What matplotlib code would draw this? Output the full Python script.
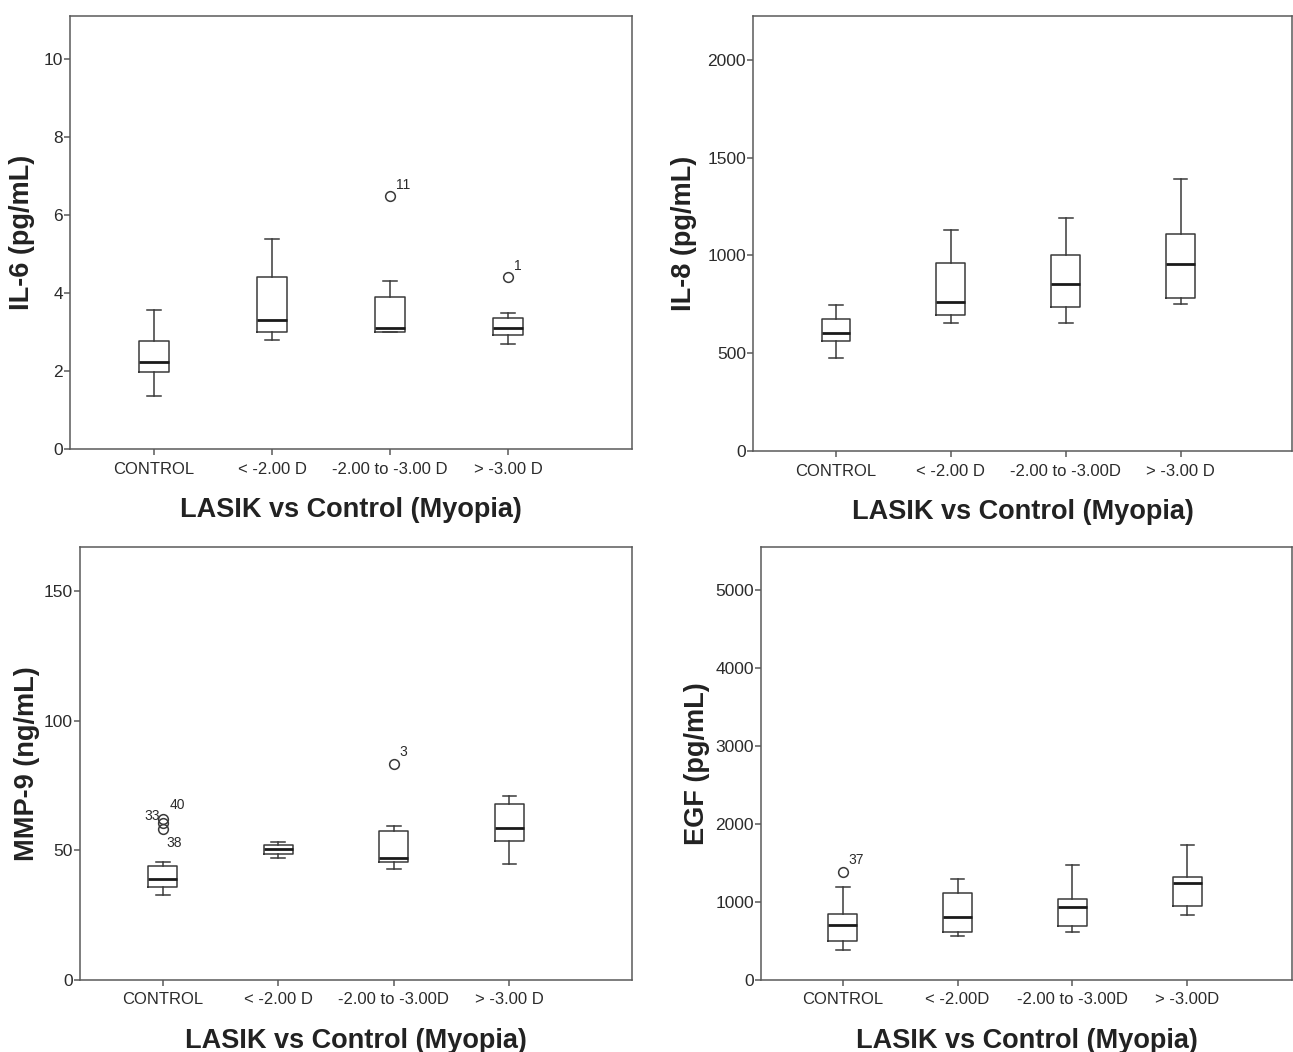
import numpy as np
import matplotlib.pyplot as plt

plt.rcParams['font.family'] = ['Liberation Sans', 'DejaVu Sans']

# =========================
# Data
# =========================
xtitle = "LASIK vs Control (Myopia)"

il6_groups = ["CONTROL", "< -2.00 D", "-2.00 to -3.00 D", "> -3.00 D"]
il6_whislo = [1.37, 2.79, 3.00, 2.70]
il6_q1 = [1.98, 3.00, 3.00, 2.91]
il6_med = [2.23, 3.30, 3.09, 3.10]
il6_q3 = [2.78, 4.40, 3.90, 3.35]
il6_whishi = [3.56, 5.39, 4.30, 3.49]
il6_out = [(3, 6.49, "11"), (4, 4.40, "1")]

il8_groups = ["CONTROL", "< -2.00 D", "-2.00 to -3.00D", "> -3.00 D"]
il8_whislo = [475, 654, 654, 753]
il8_q1 = [562, 695, 734, 783]
il8_med = [603, 763, 853, 954]
il8_q3 = [673, 962, 1002, 1112]
il8_whishi = [745, 1131, 1192, 1391]
il8_out = []

mmp_groups = ["CONTROL", "< -2.00 D", "-2.00 to -3.00D", "> -3.00 D"]
mmp_whislo = [32.8, 47.0, 42.9, 44.9]
mmp_q1 = [35.8, 48.6, 45.4, 53.8]
mmp_med = [39.1, 50.6, 47.2, 58.6]
mmp_q3 = [44.1, 52.1, 57.5, 67.8]
mmp_whishi = [45.4, 53.3, 59.5, 70.9]
mmp_out = [(1, 62.0, "40"), (1, 60.5, "33"), (1, 58.4, "38"), (3, 83.5, "3")]

egf_groups = ["CONTROL", "< -2.00D", "-2.00 to -3.00D", "> -3.00D"]
egf_whislo = [385, 568, 611, 829]
egf_q1 = [496, 620, 688, 949]
egf_med = [701, 808, 940, 1248]
egf_q3 = [850, 1115, 1042, 1316]
egf_whishi = [1192, 1295, 1474, 1735]
egf_out = [(1, 1389, "37")]

# label offsets (points) for the case numbers next to outliers
lab_offset = {"11": (4, 3, "left"), "1": (4, 3, "left"), "40": (5, 5, "left"),
              "33": (-2, 0, "right"), "38": (3, -5, "left"), "3": (4, 3, "left"),
              "37": (4, 3, "left")}

W, H = 1293, 1052
fig = plt.figure(figsize=(W / 100, H / 100), dpi=100)

LINE = "#3a3a3a"
SPINE = "#5a5a5a"
TEXT = "#2b2b2b"


def panel(rect, groups, wlo, q1, med, q3, whi, outs, ylabel, ylim, yticks, xlim, ylab_x):
    left, top, right, bottom = rect
    ax = fig.add_axes([left / W, 1 - bottom / H, (right - left) / W, (bottom - top) / H])
    stats = []
    for i in range(len(groups)):
        fl = [o[1] for o in outs if o[0] == i + 1]
        stats.append(dict(whislo=wlo[i], q1=q1[i], med=med[i], q3=q3[i],
                          whishi=whi[i], fliers=fl))
    ax.bxp(stats, positions=np.arange(1, len(groups) + 1), widths=0.25,
           capwidths=0.12, showfliers=True,
           boxprops=dict(color=LINE, linewidth=1.1),
           whiskerprops=dict(color=LINE, linewidth=1.1),
           capprops=dict(color=LINE, linewidth=1.1),
           medianprops=dict(color="#1a1a1a", linewidth=2.0),
           flierprops=dict(marker="o", markerfacecolor="none",
                           markeredgecolor=LINE, markersize=7, markeredgewidth=1.1))
    for pos, val, lab in outs:
        dx, dy, ha = lab_offset[lab]
        ax.annotate(lab, (pos, val), xytext=(dx, dy), textcoords="offset points",
                    ha=ha, va="bottom" if dy >= 0 else "top", fontsize=10, color=TEXT)
    ax.set_xlim(*xlim)
    ax.set_ylim(*ylim)
    ax.set_yticks(yticks)
    ax.set_xticks(np.arange(1, len(groups) + 1))
    ax.set_xticklabels(groups)
    for s in ax.spines.values():
        s.set_color(SPINE)
        s.set_linewidth(1.1)
    ax.tick_params(direction="out", length=4, width=1.1, color=SPINE,
                   labelcolor=TEXT)
    ax.tick_params(axis="x", labelsize=12, pad=5)
    ax.tick_params(axis="y", labelsize=12.5, pad=1)
    ax.set_ylabel(ylabel, fontsize=19.5, fontweight="bold", color="#222222")
    ax.yaxis.set_label_coords(ylab_x, 0.5)
    ax.set_xlabel(xtitle, fontsize=19.5, fontweight="bold", color="#222222")
    lbl = ax.xaxis.label
    lbl.set_va("center")
    ax.xaxis.set_label_coords(0.5, -61 / (bottom - top))
    return ax


panel((70, 16, 632, 449), il6_groups, il6_whislo, il6_q1, il6_med, il6_q3, il6_whishi,
      il6_out, "IL-6 (pg/mL)", (0, 11.1), [0, 2, 4, 6, 8, 10], (0.288, 5.05), -0.062)
panel((753, 16, 1292, 451), il8_groups, il8_whislo, il8_q1, il8_med, il8_q3, il8_whishi,
      il8_out, "IL-8 (pg/mL)", (0, 2225), [0, 500, 1000, 1500, 2000], (0.278, 4.97), -0.104)
panel((80, 547, 632, 980), mmp_groups, mmp_whislo, mmp_q1, mmp_med, mmp_q3, mmp_whishi,
      mmp_out, "MMP-9 (ng/mL)", (0, 167), [0, 50, 100, 150], (0.285, 5.06), -0.072)
panel((761, 547, 1292, 980), egf_groups, egf_whislo, egf_q1, egf_med, egf_q3, egf_whishi,
      egf_out, "EGF (pg/mL)", (0, 5551), [0, 1000, 2000, 3000, 4000, 5000], (0.29, 4.91), -0.096)

plt.savefig("out.png", dpi=100)
